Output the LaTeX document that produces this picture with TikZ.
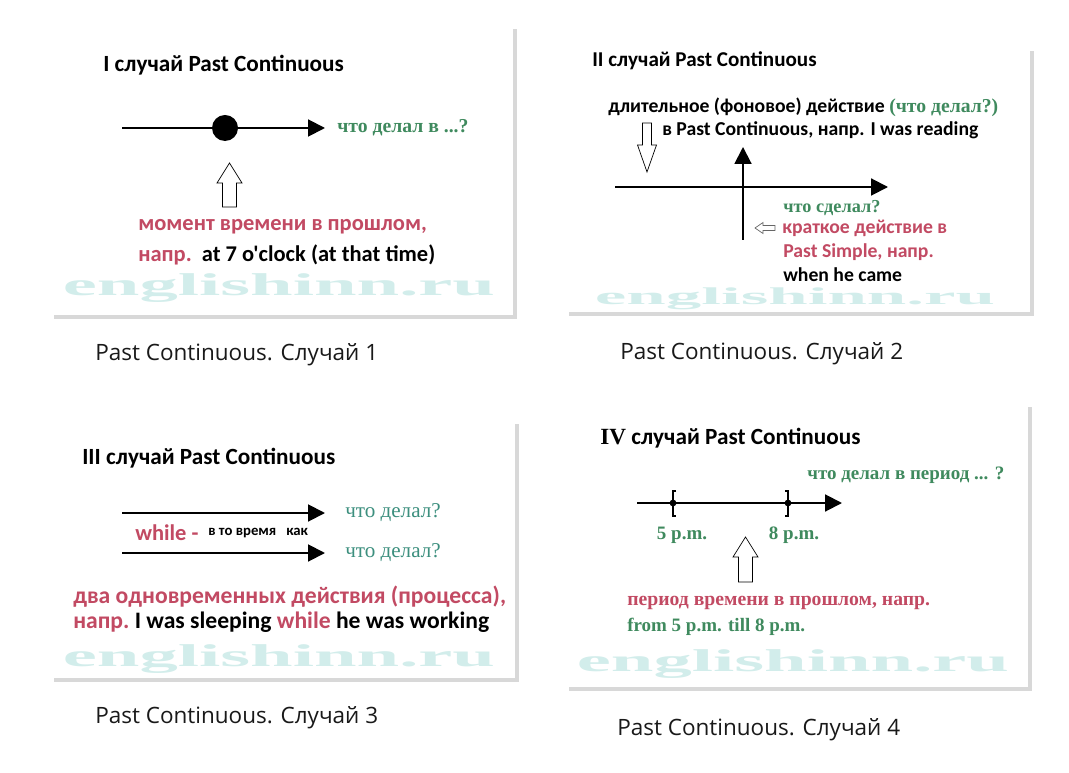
\documentclass[tikz,border=0pt]{standalone}
\usepackage{fontspec}
\usepackage{graphicx}
\setmainfont{Liberation Serif}
\newfontfamily\carl{Carlito}
\newfontfamily\capfont{Open Sans}
\usetikzlibrary{positioning,arrows.meta,shadows}
\definecolor{pcred}{HTML}{C24A63}
\definecolor{pcgreen}{HTML}{3F8A5E}
\definecolor{pcteal}{HTML}{3C8F7E}
\definecolor{pcwm}{HTML}{D2EDEB}
\newcommand{\gq}[1]{{\rmfamily\bfseries\color{pcgreen}#1}}
\newcommand{\rd}[1]{{\color{pcred}#1}}

\begin{document}
\begin{tikzpicture}[x=0.025cm, y=-0.025cm,
  card/.style={fill=white, drop shadow={shadow xshift=2.5pt, shadow yshift=-2.5pt, opacity=.3}},
  tl/.style={anchor=west, inner sep=0, font=\carl\bfseries\fontsize{16.5}{18}\selectfont},
  sn/.style={anchor=west, inner sep=0, font=\carl\bfseries\fontsize{16}{18}\selectfont},
  sf/.style={anchor=west, inner sep=0, font=\rmfamily\bfseries\fontsize{13}{15}\selectfont, text=pcgreen},
  wm/.style={inner sep=0, text=pcwm, font=\rmfamily\bfseries},
  capt/.style={anchor=west, inner sep=0, font=\capfont\fontsize{16}{19}\selectfont, text=black!90},
  tline/.style={line width=1.4pt, -{Triangle[length=0.42cm, width=0.42cm]}},
  dot/.style={circle, fill=black, minimum size=0.65cm, inner sep=0},
  hol/.style={draw, fill=white, line width=0.5pt, line join=miter}
]
\useasboundingbox[fill=white] (0,0) rectangle (1069,773);

% cards
\fill[card] (50,25) rectangle (513,315);
\fill[card] (565,47) rectangle (1030,312);
\fill[card] (50,420) rectangle (515,678);
\fill[card] (565,403) rectangle (1028,687);

% case 1
\node[wm] (w1) at (279,288) {\resizebox*{10.8cm}{0.72cm}{englishinn.ru}};
\node[tl] (t1) at (103,65) {I случай Past Continuous};
\coordinate (a1s) at (122,128);
\coordinate (a1e) at (325,128);
\draw[tline] (a1s) -- (a1e);
\node[dot] (d1) at (225,128) {};
\node[sf, font=\rmfamily\bfseries\fontsize{14}{16}\selectfont, right=0.3cm of a1e] (q1) {что делал в ...?};
\draw[hol] (229.5,163) -- (242,183) -- (236.5,183) -- (236.5,207) -- (222.5,207) -- (222.5,183) -- (217,183) -- cycle;
\node[sn, text=pcred] (m1) at (138,227) {момент времени в прошлом,};
\node[sn] (m2) at (138,255) {\rd{напр.}\ \ at 7 o'clock (at that time)};
\node[capt] (c1) at (95,355) {Past Continuous. Случай 1};

% case 2
\node[wm] (w2) at (795,299) {\resizebox*{10cm}{0.55cm}{englishinn.ru}};
\node[tl, font=\carl\bfseries\fontsize{15}{17}\selectfont] (t2) at (592,61) {II случай Past Continuous};
\node[sn, font=\carl\bfseries\fontsize{14}{16}\selectfont] (l1) at (608,107) {длительное (фоновое) действие \gq{(что делал?)}};
\node[sn, font=\carl\bfseries\fontsize{14}{16}\selectfont] (l2) at (662,130) {в Past Continuous, напр. I was reading};
\draw[hol] (647,172) -- (656.5,145) -- (651.5,145) -- (651.5,123) -- (642.5,123) -- (642.5,145) -- (637.5,145) -- cycle;
\coordinate (a2s) at (615,187);
\coordinate (a2e) at (888,187);
\draw[tline] (a2s) -- (a2e);
\coordinate (v2s) at (743,240);
\coordinate (v2e) at (743,147);
\draw[tline] (v2s) -- (v2e);
\node[sf] (q2) at (783,208) {что сделал?};
\draw[hol, draw=black!60] (755,228) -- (763,222.5) -- (763,225.5) -- (775,225.5) -- (775,230.5) -- (763,230.5) -- (763,233.5) -- cycle;
\node[sn, text=pcred, font=\carl\bfseries\fontsize{14}{16}\selectfont] (k1) at (782,228) {краткое действие в};
\node[sn, text=pcred, font=\carl\bfseries\fontsize{14}{16}\selectfont] (k2) at (783,252) {Past Simple, напр.};
\node[sn, font=\carl\bfseries\fontsize{14}{16}\selectfont] (k3) at (783,275) {when he came};
\node[capt] (c2) at (620,354) {Past Continuous. Случай 2};

% case 3
\node[wm] (w3) at (279,659) {\resizebox*{10.8cm}{0.72cm}{englishinn.ru}};
\node[tl] (t3) at (82,458) {III случай Past Continuous};
\coordinate (b1s) at (122,513);
\coordinate (b1e) at (325,513);
\coordinate (b2s) at (122,553);
\coordinate (b2e) at (325,553);
\draw[tline] (b1s) -- (b1e);
\draw[tline] (b2s) -- (b2e);
\node[sf, text=pcteal, font=\rmfamily\fontsize{15}{17}\selectfont, right=0.5cm of b1e] (q3) {что делал?};
\node[sf, text=pcteal, font=\rmfamily\fontsize{15}{17}\selectfont, right=0.5cm of b2e] (q4) {что делал?};
\node[sn, text=pcred] (wh) at (135,533) {while -};
\node[sn, font=\carl\bfseries\fontsize{10.5}{12}\selectfont] (vt) at (208,533) {в то время\ \ \ как};
\node[sn, font=\carl\bfseries\fontsize{16.8}{18}\selectfont] (dv) at (73,597) {\rd{два одновременных действия (процесса),}};
\node[sn, font=\carl\bfseries\fontsize{16.8}{18}\selectfont] (np) at (73,622) {\rd{напр.}\ I was sleeping \rd{while} he was working};
\node[capt] (c3) at (95,718) {Past Continuous. Случай 3};

% case 4
\node[wm] (w4) at (793,664) {\resizebox*{10.8cm}{0.72cm}{englishinn.ru}};
\node[tl] (t4) at (600,438) {{\rmfamily IV} случай Past Continuous};
\node[sf, font=\rmfamily\bfseries\fontsize{13.5}{15}\selectfont] (q5) at (807,475) {что делал в период ... ?};
\coordinate (a4s) at (637,503);
\coordinate (a4e) at (842,503);
\draw[tline] (a4s) -- (a4e);
\draw[line width=0.8pt] (676,491) -- (673,491) -- (673,516) -- (676,516);
\draw[line width=0.8pt] (785,491) -- (788,491) -- (788,516) -- (785,516);
\node[circle, fill=black, minimum size=0.17cm, inner sep=0] (k5) at (673,503) {};
\node[circle, fill=black, minimum size=0.17cm, inner sep=0] (k8) at (788,503) {};
\node[sf, anchor=center, font=\rmfamily\bfseries\fontsize{13.5}{15}\selectfont] (p5) at (682,535) {5 p.m.};
\node[sf, anchor=center, font=\rmfamily\bfseries\fontsize{13.5}{15}\selectfont] (p8) at (794,535) {8 p.m.};
\draw[hol] (745.5,537) -- (758,557) -- (752.5,557) -- (752.5,582) -- (738.5,582) -- (738.5,557) -- (733,557) -- cycle;
\node[sf, text=pcred, font=\rmfamily\bfseries\fontsize{14}{16}\selectfont] (pr) at (627,603) {период времени в прошлом, напр.};
\node[sf, font=\rmfamily\bfseries\fontsize{13.5}{15}\selectfont] (fr) at (627,627) {from 5 p.m. till 8 p.m.};
\node[capt] (c4) at (617,730) {Past Continuous. Случай 4};
\end{tikzpicture}
\end{document}
